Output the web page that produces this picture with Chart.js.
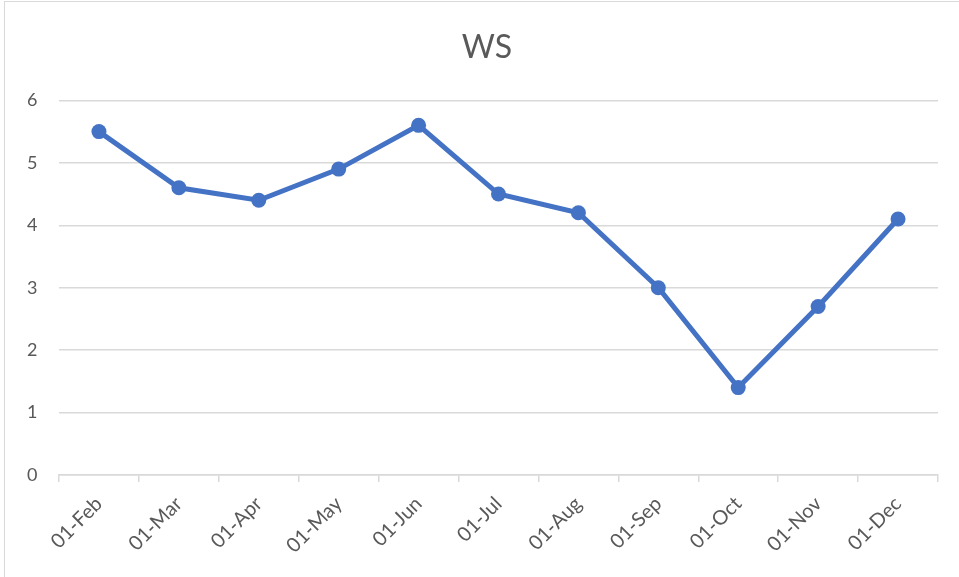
<!DOCTYPE html>
<html>
<head>
<meta charset="utf-8">
<script src="https://cdn.jsdelivr.net/npm/chart.js@4"></script>
<style>
  html, body { margin: 0; padding: 0; background: #fff; overflow: hidden; }
  #box {
    position: absolute; left: 4px; top: 1px;
    width: 960px; height: 590px;
    border-top: 1px solid #d9d9d9; border-left: 1px solid #d9d9d9;
  }
  #wrap { position: absolute; left: 5px; top: 2px; width: 954px; height: 575px; }
</style>
</head>
<body>
<div id="box"></div>
<div id="wrap"><canvas id="wsChart"></canvas></div>
<script>
const months = ["01-Feb", "01-Mar", "01-Apr", "01-May", "01-Jun", "01-Jul",
  "01-Aug", "01-Sep", "01-Oct", "01-Nov", "01-Dec"];
const wsValues = [5.5, 4.6, 4.4, 4.9, 5.6, 4.5, 4.2, 3.0, 1.4, 2.7, 4.1];
const yTicks = [0, 1, 2, 3, 4, 5, 6];

const textColor = "#595959";
const gridColor = "#d9d9d9";
const fontFamily = "Lato, 'Open Sans', sans-serif";

const ctx = document.getElementById("wsChart");

new Chart(ctx, {
  type: "line",

  data: {
    labels: months,
    datasets: [
      {
        label: "WS",
        data: wsValues,
        borderColor: "#4472c4",
        backgroundColor: "#4472c4",
        borderWidth: 5,
        pointRadius: 7.5,
        pointHoverRadius: 7.5,
        pointBorderWidth: 0,
        tension: 0
      }
    ]
  },

  options: {
    responsive: true,
    maintainAspectRatio: false,
    animation: false,
    events: [],

    // left padding pushes the centred title to where Excel put it
    layout: {
      padding: { left: 31, right: 21, top: 0, bottom: 0 }
    },

    plugins: {
      legend: { display: false },
      tooltip: { enabled: false },

      title: {
        display: true,
        text: "WS",
        color: textColor,
        font: { family: fontFamily, size: 32, weight: "normal" },
        padding: { top: 26, bottom: 34 }
      }
    },

    scales: {
      x: {
        offset: true,
        grid: {
          offset: true,
          drawOnChartArea: false,
          color: gridColor,
          lineWidth: 1.5,
          tickLength: 7
        },
        border: { color: gridColor, width: 1.5 },
        ticks: {
          color: textColor,
          font: { family: fontFamily, size: 20 },
          minRotation: 45,
          maxRotation: 45,
          padding: 10
        },
        afterFit: (scale) => { scale.height = 102; }
      },

      y: {
        min: 0,
        max: 6,
        afterBuildTicks: (scale) => {
          scale.ticks = yTicks.map((v) => ({ value: v }));
        },
        grid: {
          color: gridColor,
          lineWidth: 1.5,
          drawTicks: false
        },
        border: { display: false },
        // mirrored so the labels are not clipped to the narrow axis box
        ticks: {
          mirror: true,
          color: textColor,
          font: { family: fontFamily, size: 18 },
          padding: -32
        },
        afterFit: (scale) => { scale.width = 23; }
      }
    }
  }
});
</script>
</body>
</html>
